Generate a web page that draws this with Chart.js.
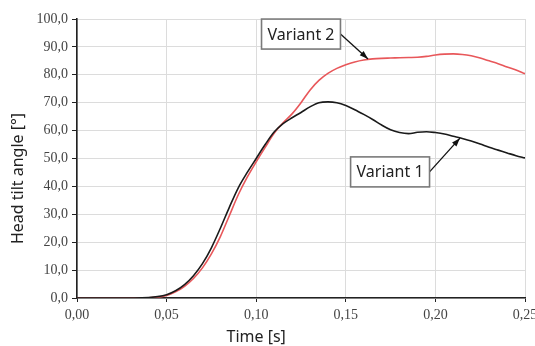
<!DOCTYPE html>
<html>
<head>
<meta charset="utf-8">
<script src="https://cdn.jsdelivr.net/npm/chart.js@4.4.0/dist/chart.umd.min.js"></script>
<style>
  html, body { margin: 0; padding: 0; background: #fff; }
  #wrap { width: 535px; height: 346px; }
</style>
</head>
<body>
<div id="wrap"><canvas id="lineChart" width="535" height="346"></canvas></div>
<script>
// time samples [s]
var times = [0, 0.02, 0.04, 0.045, 0.05, 0.055, 0.06, 0.065, 0.07, 0.075, 0.08, 0.085, 0.09, 0.095,
    0.10, 0.105, 0.11, 0.115, 0.12, 0.125, 0.13, 0.135, 0.14, 0.145, 0.15, 0.155, 0.16, 0.165,
    0.17, 0.175, 0.18, 0.185, 0.19, 0.195, 0.20, 0.205, 0.21, 0.215, 0.22, 0.225, 0.23, 0.235,
    0.24, 0.245, 0.25];

// head tilt angle [deg]
var variant1 = [0, 0, 0.2, 0.5, 1.2, 2.6, 4.8, 8, 12.3, 18, 25, 32.5, 39.5, 45,
    50, 55, 59.5, 62.5, 64.6, 66.5, 68.5, 70, 70.3, 70, 69, 67.5, 65.8, 64,
    62, 60.3, 59.3, 58.9, 59.4, 59.6, 59.3, 58.8, 58, 57.2, 56.3, 55.2, 54, 53,
    52, 51, 50.2];

var variant2 = [0, 0, 0.1, 0.3, 0.9, 2.2, 4.2, 7, 10.8, 15.8, 22, 29.5, 37, 43.3,
    48.8, 54, 59, 62.8, 66, 70, 74.5, 78, 80.5, 82.3, 83.6, 84.6, 85.3, 85.7,
    85.9, 86, 86.1, 86.2, 86.3, 86.6, 87.1, 87.4, 87.5, 87.3, 86.8, 86, 85, 84,
    82.8, 81.7, 80.4];

var seriesNames = ["Variant 1", "Variant 2"];
var xTitle = "Time [s]";
var yTitle = "Head tilt angle [°]";

// callouts: label position and arrow tip, in data units
var callouts = [
    { text: "Variant 2", x: 0.125, y: 94.6, tipX: 0.1624, tipY: 85.7 },
    { text: "Variant 1", x: 0.1747, y: 45.2, tipX: 0.2137, tipY: 57.3 }
];

function toPoints(vals) {
    return times.map(function(t, i) { return { x: t, y: vals[i] }; });
}

function comma(v, digits) {
    return Number(v).toFixed(digits).replace(".", ",");
}

var calloutPlugin = {
    id: "callouts",
    afterDatasetsDraw: function(chart) {
        var ctx = chart.ctx;
        var xs = chart.scales.x, ys = chart.scales.y;
        var area = chart.chartArea;
        ctx.save();
        ctx.font = "16px 'Noto Sans', sans-serif";
        callouts.forEach(function(c) {
            var cx = xs.getPixelForValue(c.x), cy = ys.getPixelForValue(c.y);
            var tx = xs.getPixelForValue(c.tipX), ty = ys.getPixelForValue(c.tipY);
            var w = ctx.measureText(c.text).width + 12, h = 30;
            var bx = cx - w / 2, by = cy - h / 2;
            var sx = bx + w, sy = cy;
            ctx.strokeStyle = "#111";
            ctx.lineWidth = 1.3;
            ctx.beginPath();
            ctx.moveTo(sx, sy);
            ctx.lineTo(tx, ty);
            ctx.stroke();
            var ang = Math.atan2(ty - sy, tx - sx);
            ctx.fillStyle = "#111";
            ctx.beginPath();
            ctx.moveTo(tx, ty);
            ctx.lineTo(tx - 9 * Math.cos(ang - 0.33), ty - 9 * Math.sin(ang - 0.33));
            ctx.lineTo(tx - 9 * Math.cos(ang + 0.33), ty - 9 * Math.sin(ang + 0.33));
            ctx.closePath();
            ctx.fill();
            ctx.fillStyle = "#fff";
            ctx.fillRect(bx, by, w, h);
            ctx.strokeStyle = "#7a7a7a";
            ctx.lineWidth = 1.6;
            ctx.strokeRect(bx, by, w, h);
            ctx.fillStyle = "#222";
            ctx.textAlign = "center";
            ctx.textBaseline = "middle";
            ctx.fillText(c.text, cx, cy + 1);
        });
        // axis titles, offset as in the original figure
        ctx.fillStyle = "#222";
        ctx.textAlign = "center";
        ctx.textBaseline = "middle";
        ctx.fillText(xTitle, xs.getPixelForValue(0.1), chart.height - 9);
        ctx.translate(18, (area.top + area.bottom) / 2 + 20);
        ctx.rotate(-Math.PI / 2);
        ctx.fillText(yTitle, 0, 0);
        ctx.restore();
    }
};

document.addEventListener("DOMContentLoaded", function() {
    var ctx1 = document.getElementById("lineChart").getContext("2d");
    new Chart(ctx1, {
        type: "line",
        data: {
            datasets: [{
                label: seriesNames[0],
                data: toPoints(variant1),
                borderColor: "#1a1a1a",
                borderWidth: 1.6,
                pointRadius: 0,
                cubicInterpolationMode: "monotone",
                fill: false
            }, {
                label: seriesNames[1],
                data: toPoints(variant2),
                borderColor: "#e8575a",
                borderWidth: 1.6,
                pointRadius: 0,
                cubicInterpolationMode: "monotone",
                fill: false
            }]
        },
        options: {
            responsive: false,
            animation: false,
            events: [],
            layout: { padding: { top: 19, right: 10, left: 0, bottom: 0 } },
            plugins: { legend: { display: false }, tooltip: { enabled: false } },
            scales: {
                x: {
                    type: "linear",
                    min: 0,
                    max: 0.25,
                    afterFit: function(s) { s.height = 48; s.paddingRight = 0; },
                    ticks: {
                        stepSize: 0.05,
                        color: "#444",
                        padding: 5,
                        font: { family: "'Liberation Serif', serif", size: 14 },
                        callback: function(v) { return comma(v, 2); }
                    },
                    grid: { color: "#dcdcdc", tickColor: "#222", tickLength: 4 },
                    border: { color: "#222", width: 1.6 }
                },
                y: {
                    min: 0,
                    max: 100,
                    afterFit: function(s) { s.width = 77; },
                    ticks: {
                        stepSize: 10,
                        color: "#444",
                        padding: 4,
                        font: { family: "'Liberation Serif', serif", size: 14 },
                        callback: function(v) { return comma(v, 1); }
                    },
                    grid: { color: "#dcdcdc", tickColor: "#222", tickLength: 5 },
                    border: { color: "#222", width: 1.6 }
                }
            }
        },
        plugins: [calloutPlugin]
    });
});
</script>
</body>
</html>
